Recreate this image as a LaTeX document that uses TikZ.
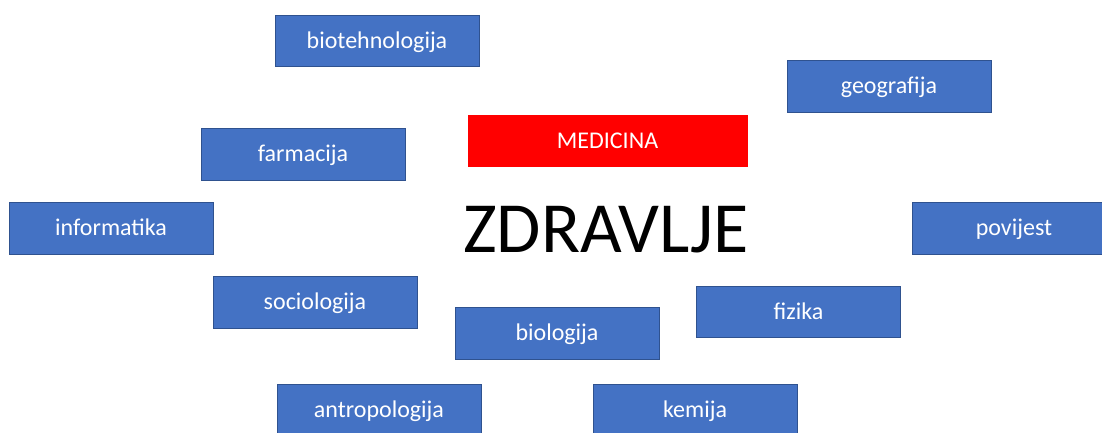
\documentclass[tikz,border=0pt]{standalone}
\usepackage{fontspec}
\setmainfont{Carlito}
\definecolor{boxblue}{HTML}{4472C4}
\definecolor{boxedge}{HTML}{2F528F}
\definecolor{medred}{HTML}{FF0000}
\begin{document}
\begin{tikzpicture}[x=0.75pt,y=-0.75pt,
  field/.style={draw=boxedge,line width=0.6pt,fill=boxblue,text=white,font=\fontsize{18}{20}\selectfont,
    minimum width=153pt,minimum height=38.5pt,inner sep=0pt,text height=13pt,text depth=2pt},
  core/.style={fill=medred,text=white,font=\fontsize{18}{20}\selectfont,
    minimum width=210pt,minimum height=39pt,inner sep=0pt,text height=13pt,text depth=2pt}]
 \useasboundingbox (0,0) rectangle (1102,432);
 \clip (0,0) rectangle (1102,432);

 %Centre
 \node[core] (medicina) at (607.5,141) {MEDICINA};
 \node[font=\fontsize{54}{60}\selectfont] (zdravlje) at (606,230) {ZDRAVLJE};

 %Fields
 \node[field] (biotehnologija) at (377,41) {biotehnologija};
 \node[field] (geografija) at (889,86.5) {geografija};
 \node[field] (farmacija) at (303,154.5) {farmacija};
 \node[field] (informatika) at (111,228.5) {informatika};
 \node[field] (povijest) at (1014,228.5) {povijest};
 \node[field] (sociologija) at (315,302.5) {sociologija};
 \node[field] (fizika) at (798.5,312) {fizika};
 \node[field] (biologija) at (557,333.5) {biologija};
 \node[field] (antropologija) at (379,410.5) {antropologija};
 \node[field] (kemija) at (695,410.5) {kemija};

\end{tikzpicture}
\end{document}
